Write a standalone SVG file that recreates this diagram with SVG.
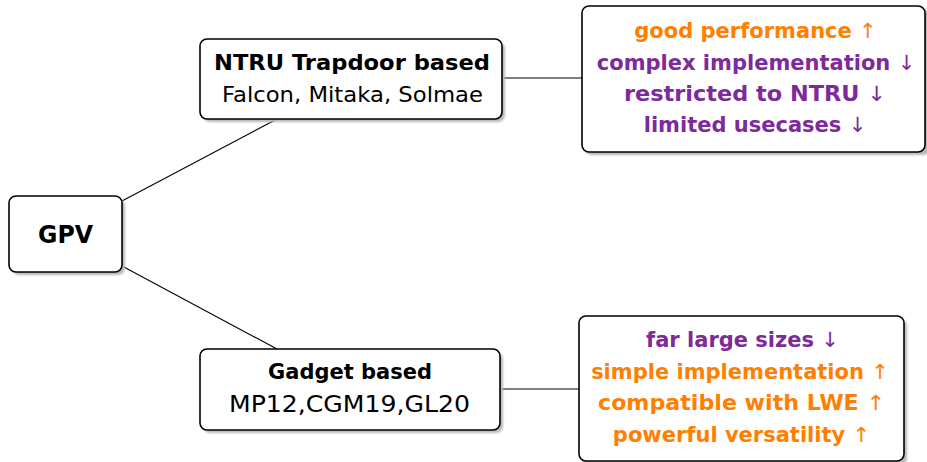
<svg xmlns="http://www.w3.org/2000/svg" width="927" height="462" viewBox="0 0 927 462">
<defs>
<filter id="sh" x="-10%" y="-10%" width="120%" height="130%"><feGaussianBlur stdDeviation="1.2"/></filter>
</defs>
<style>
.box{fill:#fff;stroke:#000;stroke-width:1.6}
.shadow{fill:#b8b8b8;filter:url(#sh)}
.t{font-family:"DejaVu Sans",sans-serif;text-anchor:middle}
.b{font-weight:bold}
.or{fill:#ff7f00}
.pu{fill:#7d2a9c}
.ln{stroke:#000;stroke-width:1.1;fill:none}
</style>
<rect width="927" height="462" fill="#fff"/>
<g id="connectors">
<line class="ln" x1="122" y1="201" x2="277" y2="119"/>
<line class="ln" x1="122" y1="266" x2="277" y2="349"/>
<line class="ln" x1="504" y1="78" x2="582" y2="78"/>
<line class="ln" x1="502" y1="389" x2="579" y2="389"/>
</g>
<g id="gpv">
<rect class="shadow" x="12" y="199" width="113" height="76" rx="7"/>
<rect class="box" x="9" y="196" width="113" height="76" rx="7"/>
<text class="t b" x="65.5" y="243" font-size="24" textLength="55" lengthAdjust="spacingAndGlyphs">GPV</text>
</g>
<g id="ntru">
<rect class="shadow" x="203" y="42" width="302" height="80" rx="7"/>
<rect class="box" x="200" y="39" width="302" height="80" rx="7"/>
<text class="t b" x="352" y="70" font-size="22" textLength="276" lengthAdjust="spacingAndGlyphs">NTRU Trapdoor based</text>
<text class="t" x="352.5" y="102" font-size="22" textLength="261" lengthAdjust="spacingAndGlyphs">Falcon, Mitaka, Solmae</text>
</g>
<g id="ntru-props">
<rect class="shadow" x="585" y="9" width="345" height="146" rx="7"/>
<rect class="box" x="582" y="6" width="343" height="146" rx="7"/>
<text class="t b or" x="755.5" y="38" font-size="21">good performance <tspan font-weight="normal">↑</tspan></text>
<text class="t b pu" x="756" y="70" font-size="21">complex implementation <tspan font-weight="normal">↓</tspan></text>
<text class="t b pu" x="755" y="101" font-size="21" textLength="262" lengthAdjust="spacingAndGlyphs">restricted to NTRU <tspan font-weight="normal">↓</tspan></text>
<text class="t b pu" x="755" y="132" font-size="21">limited usecases <tspan font-weight="normal">↓</tspan></text>
</g>
<g id="gadget">
<rect class="shadow" x="203" y="352" width="300" height="81" rx="7"/>
<rect class="box" x="200" y="349" width="300" height="81" rx="7"/>
<text class="t b" x="350" y="379" font-size="21.5" textLength="164" lengthAdjust="spacingAndGlyphs">Gadget based</text>
<text class="t" x="349.5" y="412" font-size="22.5" textLength="241" lengthAdjust="spacingAndGlyphs">MP12,CGM19,GL20</text>
</g>
<g id="gadget-props">
<rect class="shadow" x="582" y="319" width="325" height="146" rx="7"/>
<rect class="box" x="579" y="316" width="325" height="145" rx="7"/>
<text class="t b pu" x="742.5" y="347" font-size="21">far large sizes <tspan font-weight="normal">↓</tspan></text>
<text class="t b or" x="740" y="378.5" font-size="21">simple implementation <tspan font-weight="normal">↑</tspan></text>
<text class="t b or" x="741.5" y="410" font-size="21" textLength="287" lengthAdjust="spacingAndGlyphs">compatible with LWE <tspan font-weight="normal">↑</tspan></text>
<text class="t b or" x="741.5" y="441.5" font-size="21">powerful versatility <tspan font-weight="normal">↑</tspan></text>
</g>
</svg>
